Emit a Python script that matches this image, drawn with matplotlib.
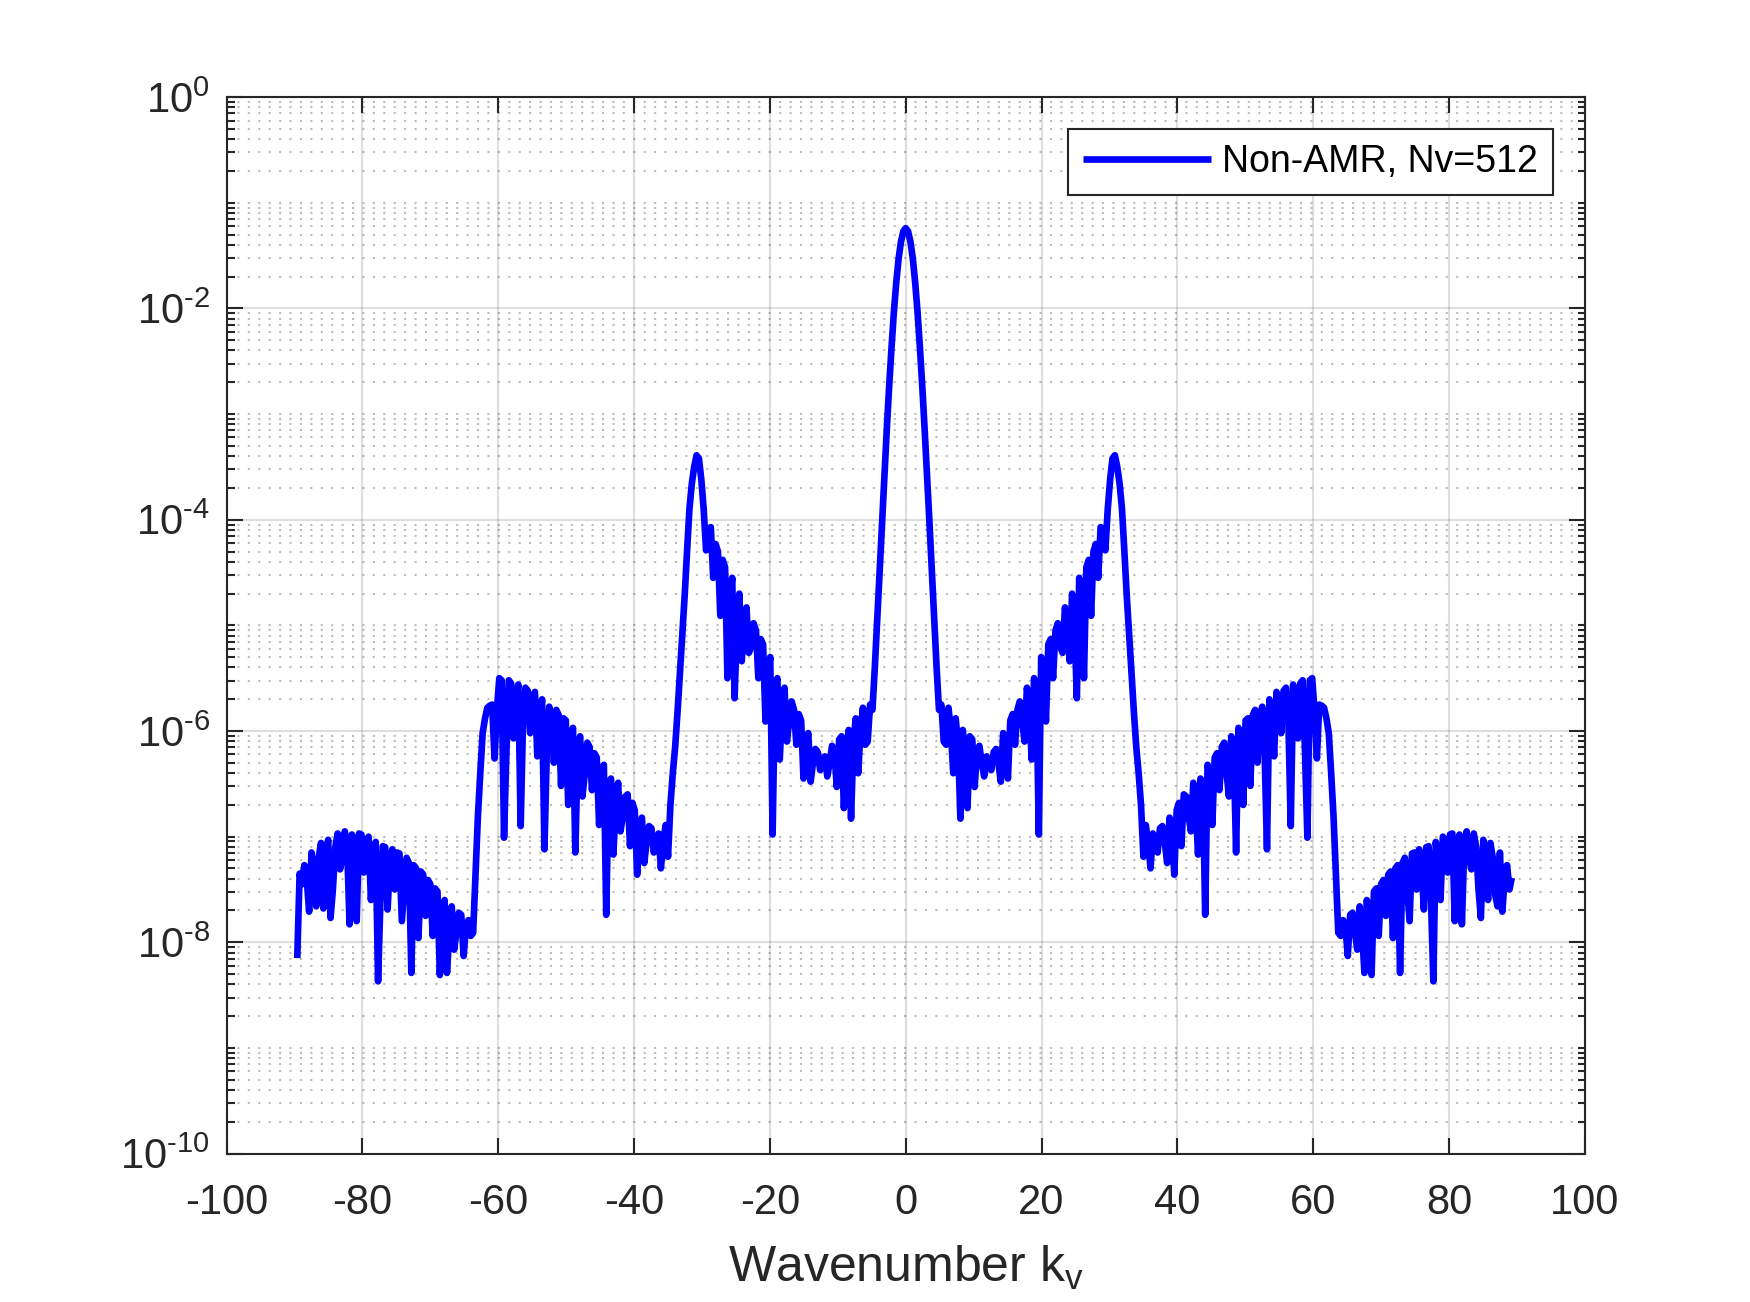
import numpy as np
import matplotlib
matplotlib.use('Agg')
import matplotlib.pyplot as plt
from matplotlib.ticker import FixedLocator, FixedFormatter, NullLocator, NullFormatter

# MATLAB-like look: Helvetica-ish font, hyphen minus signs
plt.rcParams['font.family'] = ['Liberation Sans', 'DejaVu Sans']
plt.rcParams['mathtext.fontset'] = 'custom'
plt.rcParams['mathtext.rm'] = 'Liberation Sans'
plt.rcParams['mathtext.it'] = 'Liberation Sans:italic'
plt.rcParams['axes.unicode_minus'] = False

# Wavenumber spacing of the spectrum (Nv = 512 points)
kv_step = 0.35

# log10 of the spectrum, negative wavenumbers (kv = -89.6 ... -0.35)
level_neg = [
    -8.15, -7.35, -7.45, -7.27, -7.40, -7.71, -7.15, -7.30, -7.66, -7.20,
    -7.06, -7.68, -7.20, -7.03, -7.77, -7.50, -7.10, -6.97, -7.31, -7.20,
    -6.95, -7.10, -7.83, -6.98, -7.10, -7.80, -6.97, -6.98, -7.34, -7.05,
    -7.00, -7.60, -7.20, -7.05, -8.37, -7.60, -7.09, -7.10, -7.69, -7.25,
    -7.12, -7.50, -7.15, -7.16, -7.80, -7.50, -7.20, -7.25, -8.29, -7.27,
    -7.30, -7.96, -7.33, -7.36, -7.75, -7.41, -7.45, -7.94, -7.49, -7.52,
    -8.31, -7.75, -7.60, -8.29, -7.90, -7.66, -8.07, -7.90, -7.72, -7.74,
    -8.13, -7.85, -7.79, -7.94, -7.91, -7.35, -6.81, -6.40, -6.02, -5.88,
    -5.78, -5.76, -5.75, -6.26, -5.80, -5.50, -5.52, -7.01, -6.20, -5.52,
    -5.55, -6.07, -5.70, -5.56, -6.90, -5.90, -5.59, -5.62, -6.02, -5.70,
    -5.63, -6.24, -5.90, -5.70, -7.12, -6.20, -5.77, -5.85, -6.30, -5.80,
    -5.85, -6.52, -5.88, -5.90, -6.70, -6.10, -5.97, -7.15, -6.20, -6.05,
    -6.62, -6.40, -6.11, -6.15, -6.56, -6.21, -6.25, -6.89, -6.40, -6.32,
    -7.74, -6.50, -6.45, -7.17, -6.70, -6.49, -6.95, -6.80, -6.62, -6.60,
    -7.09, -6.68, -6.75, -7.36, -6.95, -6.82, -7.25, -7.05, -6.90, -6.92,
    -7.15, -7.05, -6.97, -7.30, -7.05, -6.89, -7.19, -6.70, -6.40, -6.15,
    -5.82, -5.45, -5.08, -4.72, -4.30, -3.90, -3.66, -3.50, -3.39, -3.42,
    -3.62, -3.90, -4.29, -4.10, -4.07, -4.55, -4.23, -4.30, -4.91, -4.38,
    -4.45, -5.50, -4.80, -4.55, -5.69, -5.00, -4.70, -5.34, -5.00, -4.83,
    -5.26, -5.20, -4.98, -5.05, -5.50, -5.13, -5.18, -5.91, -5.50, -5.30,
    -6.98, -5.60, -5.50, -6.27, -5.80, -5.59, -6.10, -5.90, -5.72, -5.80,
    -6.13, -5.84, -5.90, -6.45, -6.10, -6.02, -6.48, -6.30, -6.17, -6.20,
    -6.37, -6.30, -6.24, -6.43, -6.30, -6.14, -6.20, -6.53, -6.08, -6.05,
    -6.73, -6.20, -5.99, -6.83, -6.10, -5.88, -6.40, -6.00, -5.78, -6.13,
    -6.10, -5.75, -5.80, -5.40, -4.95, -4.49, -4.03, -3.59, -3.16, -2.75,
    -2.38, -2.04, -1.76, -1.53, -1.37, -1.27,
]

# log10 of the spectrum, non-negative wavenumbers (kv = 0 ... 89.25)
level_pos = [
    -1.24, -1.27, -1.37, -1.53, -1.76, -2.04, -2.38, -2.75, -3.16, -3.59,
    -4.03, -4.49, -4.95, -5.40, -5.80, -5.75, -6.10, -6.13, -5.78, -6.00,
    -6.40, -5.88, -6.10, -6.83, -5.99, -6.20, -6.73, -6.05, -6.08, -6.53,
    -6.20, -6.14, -6.30, -6.43, -6.24, -6.30, -6.37, -6.20, -6.17, -6.30,
    -6.48, -6.02, -6.10, -6.45, -5.90, -5.84, -6.13, -5.80, -5.72, -5.90,
    -6.10, -5.59, -5.80, -6.27, -5.50, -5.60, -6.98, -5.30, -5.50, -5.91,
    -5.18, -5.13, -5.50, -5.05, -4.98, -5.20, -5.26, -4.83, -5.00, -5.34,
    -4.70, -5.00, -5.69, -4.55, -4.80, -5.50, -4.45, -4.38, -4.91, -4.30,
    -4.23, -4.55, -4.07, -4.10, -4.29, -3.90, -3.62, -3.42, -3.39, -3.50,
    -3.66, -3.90, -4.30, -4.72, -5.08, -5.45, -5.82, -6.15, -6.40, -6.70,
    -7.19, -6.89, -7.05, -7.30, -6.97, -7.05, -7.15, -6.92, -6.90, -7.05,
    -7.25, -6.82, -6.95, -7.36, -6.75, -6.68, -7.09, -6.60, -6.62, -6.80,
    -6.95, -6.49, -6.70, -7.17, -6.45, -6.50, -7.74, -6.32, -6.40, -6.89,
    -6.25, -6.21, -6.56, -6.15, -6.11, -6.40, -6.62, -6.05, -6.20, -7.15,
    -5.97, -6.10, -6.70, -5.90, -5.88, -6.52, -5.85, -5.80, -6.30, -5.85,
    -5.77, -6.20, -7.12, -5.70, -5.90, -6.24, -5.63, -5.70, -6.02, -5.62,
    -5.59, -5.90, -6.90, -5.56, -5.70, -6.07, -5.55, -5.52, -6.20, -7.01,
    -5.52, -5.50, -5.80, -6.26, -5.75, -5.76, -5.78, -5.88, -6.02, -6.40,
    -6.81, -7.35, -7.91, -7.94, -7.79, -7.85, -8.13, -7.74, -7.72, -7.90,
    -8.07, -7.66, -7.90, -8.29, -7.60, -7.75, -8.31, -7.52, -7.49, -7.94,
    -7.45, -7.41, -7.75, -7.36, -7.33, -7.96, -7.30, -7.27, -8.29, -7.25,
    -7.20, -7.50, -7.80, -7.16, -7.15, -7.50, -7.12, -7.25, -7.69, -7.10,
    -7.09, -7.60, -8.37, -7.05, -7.20, -7.60, -7.00, -7.05, -7.34, -6.98,
    -6.97, -7.80, -7.10, -6.98, -7.83, -7.10, -6.95, -7.20, -7.31, -6.97,
    -7.10, -7.50, -7.77, -7.03, -7.20, -7.60, -7.06, -7.20, -7.55, -7.66,
    -7.15, -7.71, -7.40, -7.27, -7.50, -7.39,
]

series_label = 'Non-AMR, Nv=512'
x_ticks = [-100, -80, -60, -40, -20, 0, 20, 40, 60, 80, 100]
y_exponents = [-10, -8, -6, -4, -2, 0]

kv = kv_step * np.arange(-len(level_neg), len(level_pos))
spectrum = 10.0 ** np.array(level_neg + level_pos)

axis_color = (0.15, 0.15, 0.15)

fig = plt.figure(figsize=(1750 / 300, 1302 / 300), dpi=300)
ax = fig.add_axes([0.1295, 0.114, 0.7761, 0.8114])

ax.plot(kv, spectrum, color=(0, 0, 1), linewidth=1.6, label=series_label,
        solid_joinstyle='round', solid_capstyle='butt')

ax.set_yscale('log')
ax.set_xlim(-100, 100)
ax.set_ylim(1e-10, 1)

# ticks: labelled decades every 2, minor ticks at every 1..9 x 10^k
ax.xaxis.set_major_locator(FixedLocator(x_ticks))
ax.xaxis.set_minor_locator(NullLocator())
major_y = [10.0 ** e for e in y_exponents]
minor_y = [m * 10.0 ** e for e in range(-10, 0) for m in range(1, 10)
           if m * 10.0 ** e not in major_y]
ax.yaxis.set_major_locator(FixedLocator(major_y))
# MATLAB writes the exponent with a short hyphen
ylabels = []
for e in y_exponents:
    if e < 0:
        ylabels.append('$\\mathregular{10^{\\text{-}%d}}$' % (-e))
    else:
        ylabels.append('$\\mathregular{10^{%d}}$' % e)
ax.yaxis.set_major_formatter(FixedFormatter(ylabels))
ax.yaxis.set_minor_locator(FixedLocator(minor_y))
ax.yaxis.set_minor_formatter(NullFormatter())

ax.tick_params(which='both', direction='in', top=True, right=True,
               color=axis_color, labelcolor=axis_color, width=0.5,
               labelsize=10)
ax.tick_params(which='major', length=3.8)
ax.tick_params(which='minor', length=1.8)
ax.tick_params(axis='x', pad=7)
ax.tick_params(axis='y', pad=4)

for side in ax.spines.values():
    side.set_color(axis_color)
    side.set_linewidth(0.5)

# grid like MATLAB: light solid major, dotted minor on y
ax.grid(True, which='major', color=axis_color, alpha=0.15, linewidth=0.5)
ax.grid(True, which='minor', axis='y', color=axis_color, alpha=0.3,
        linewidth=0.5, linestyle=(0, (1, 4)))
ax.set_axisbelow(True)

ax.set_xlabel('Wavenumber k$_\\mathregular{v}$', fontsize=12,
              color=axis_color, labelpad=5)

leg = ax.legend(loc='upper right', fontsize=9, fancybox=False,
                edgecolor=axis_color, framealpha=1, handlelength=3.4,
                handletextpad=0.3, borderaxespad=0.85, borderpad=0.4)
leg.get_frame().set_linewidth(0.5)

fig.savefig('out.png', dpi=300, facecolor='white')
